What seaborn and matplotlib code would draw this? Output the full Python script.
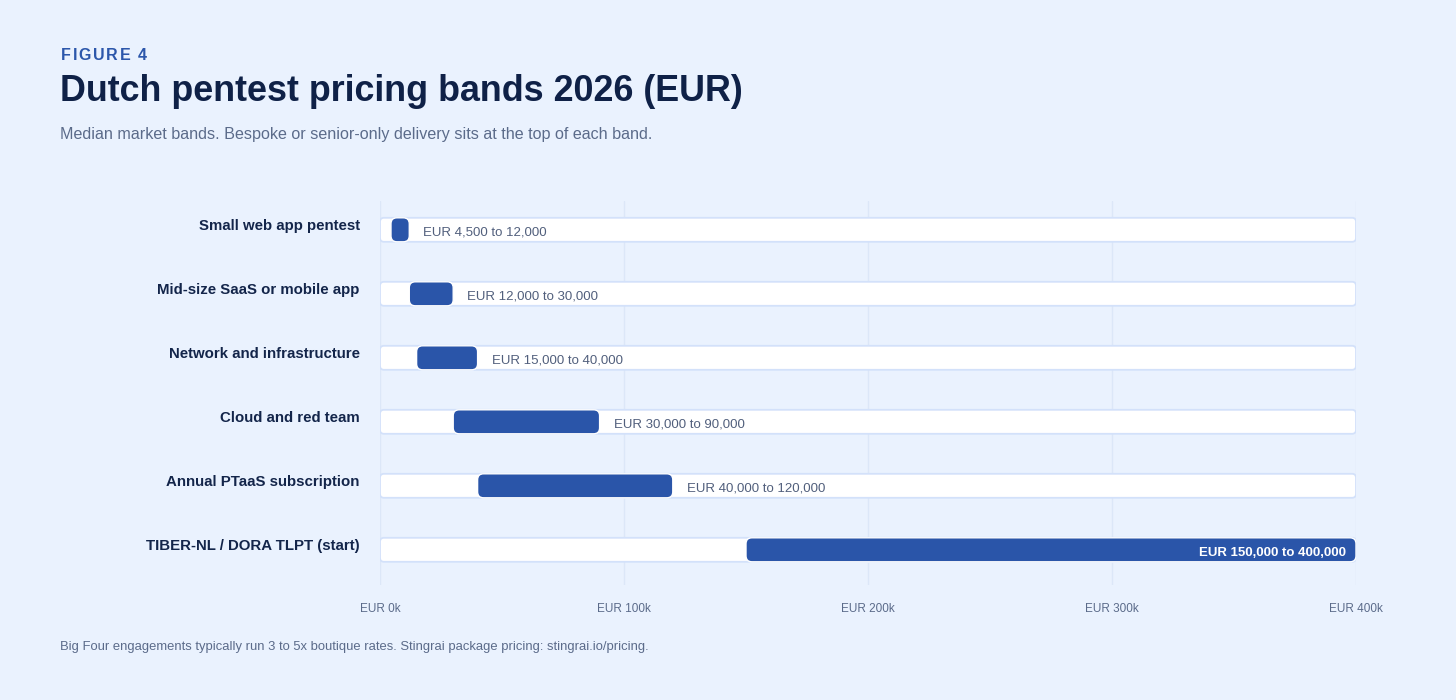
import pandas as pd
import seaborn as sns
import matplotlib.pyplot as plt
from matplotlib.patches import FancyBboxPatch
from matplotlib.transforms import ScaledTranslation

# data
categories = [
    "Small web app pentest",
    "Mid-size SaaS or mobile app",
    "Network and infrastructure",
    "Cloud and red team",
    "Annual PTaaS subscription",
    "TIBER-NL / DORA TLPT (start)",
]
low_eur = [4500, 12000, 15000, 30000, 40000, 150000]
high_eur = [12000, 30000, 40000, 90000, 120000, 400000]
band_labels = [
    "EUR 4,500 to 12,000",
    "EUR 12,000 to 30,000",
    "EUR 15,000 to 40,000",
    "EUR 30,000 to 90,000",
    "EUR 40,000 to 120,000",
    "EUR 150,000 to 400,000",
]
x_ticks = [0, 100000, 200000, 300000, 400000]
x_tick_labels = ["EUR 0k", "EUR 100k", "EUR 200k", "EUR 300k", "EUR 400k"]
x_max = 400000

BG = "#EAF2FE"
BAR = "#2A55A9"
TRACK_EDGE = "#D3E1FA"
GRID = "#DCE7F8"
NAVY = "#0F2147"
LABEL = "#13254A"
MUTED = "#5B6B8A"
VALUE = "#515F7C"

sns.set_theme(style="white")
plt.rcParams["font.family"] = ["Liberation Sans", "DejaVu Sans"]

df = pd.DataFrame({"category": categories, "low": low_eur, "high": high_eur, "label": band_labels})
df["track"] = x_max
df["span"] = df["high"] - df["low"]

W, H = 1456, 700
fig = plt.figure(figsize=(W / 100, H / 100), dpi=100, facecolor=BG)
ax = fig.add_axes([380 / W, 1 - 585 / H, 976 / W, 384 / H])
ax.set_facecolor(BG)

bar_h = 0.375
# full-width track behind each band
sns.barplot(data=df, x="track", y="category", orient="h", color="white", width=bar_h,
            saturation=1, edgecolor=TRACK_EDGE, linewidth=1.3, ax=ax, zorder=2)
n_track = len(ax.patches)
# the band itself
ax.barh(range(len(df)), df["span"], left=df["low"], height=bar_h, color=BAR, zorder=3)

ax.set_xlim(0, x_max)
ax.set_ylim(len(df) - 0.45, -0.45)
ax.set_xticks(x_ticks)
ax.set_xticklabels(x_tick_labels)
ax.grid(axis="x", color=GRID, lw=1)
ax.grid(axis="y", visible=False)
ax.set_axisbelow(True)
sns.despine(ax=ax, left=True, bottom=True)
ax.set_xlabel("")
ax.set_ylabel("")
ax.tick_params(axis="x", length=0, pad=13.2, labelsize=8.5, labelcolor=MUTED)
ax.tick_params(axis="y", length=0, pad=14.5, labelsize=10.8, labelcolor=LABEL)
for t in ax.get_yticklabels():
    t.set_fontweight("bold")
    t.set_transform(t.get_transform() + ScaledTranslation(0, 5 / 100, fig.dpi_scale_trans))

# swap plain rectangles for rounded ones
x_per_px = x_max / ax.bbox.width
y_per_px = len(df) / ax.bbox.height
for i, p in enumerate(list(ax.patches)):
    r = 4 if i < n_track else 6
    rp = FancyBboxPatch((p.get_x(), p.get_y()), p.get_width(), p.get_height(),
                        boxstyle=f"round,pad=0,rounding_size={r * x_per_px}",
                        mutation_aspect=y_per_px / x_per_px,
                        facecolor=p.get_facecolor(), edgecolor=p.get_edgecolor(),
                        linewidth=p.get_linewidth(), zorder=p.get_zorder())
    p.remove()
    ax.add_patch(rp)

for i, row in df.iterrows():
    if row["span"] > 0.5 * x_max:
        ax.annotate(row["label"], (row["high"], i), xytext=(-10, -6), textcoords="offset pixels",
                    ha="right", va="baseline", fontsize=9.5, fontweight="bold", color="white", zorder=4)
    else:
        ax.annotate(row["label"], (row["high"], i), xytext=(14, -6), textcoords="offset pixels",
                    ha="left", va="baseline", fontsize=9.5, color=VALUE, zorder=4)


def spaced_text(x_px, y_px, s, spacing_px, **kw):
    # matplotlib has no letter-spacing, so place glyphs one at a time
    renderer = fig.canvas.get_renderer()
    x = x_px
    for ch in s:
        t = fig.text(x / W, 1 - y_px / H, ch, va="baseline", **kw)
        w = t.get_window_extent(renderer).width if ch != " " else t.get_fontsize() * 100 / 72 * 0.28
        x += w + spacing_px


spaced_text(61, 60, "FIGURE 4", 1.7, fontsize=11.5, fontweight="bold", color="#2C57AB")
fig.text(60 / W, 1 - 101 / H, "Dutch pentest pricing bands 2026 (EUR)", fontsize=25.8, fontweight="bold",
         color=NAVY, va="baseline")
fig.text(60 / W, 1 - 139.5 / H, "Median market bands. Bespoke or senior-only delivery sits at the top of each band.",
         fontsize=11.6, color=MUTED, va="baseline")
fig.text(60 / W, 1 - 650 / H,
         "Big Four engagements typically run 3 to 5x boutique rates. Stingrai package pricing: stingrai.io/pricing.",
         fontsize=9.4, color=MUTED, va="baseline")

fig.savefig("out.png", dpi=100, facecolor=BG)
